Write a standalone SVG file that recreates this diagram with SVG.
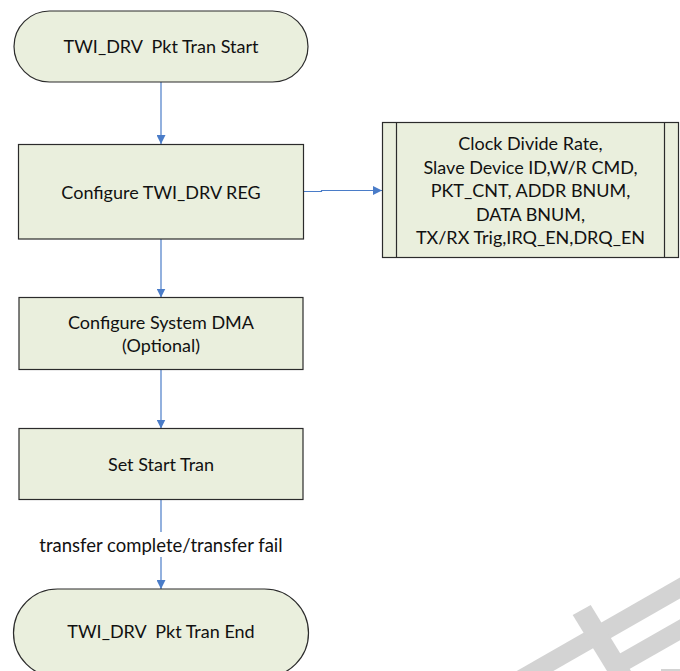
<svg xmlns="http://www.w3.org/2000/svg" width="680" height="671" viewBox="0 0 680 671">
<style>
  .shape { fill: #EAEFDD; stroke: #2b2b2b; stroke-width: 1.2; }
  .t { font-family: Lato, "Liberation Sans", sans-serif; font-size: 18px; fill: #111; text-anchor: middle; }
  .lbl { font-size: 18.5px; }
  .conn { fill: none; stroke: #4A7CC8; stroke-width: 1.2; }
  .wm { fill: #D3D3D3; }
</style>
<defs>
  <marker id="arr" viewBox="0 0 10 10" refX="10" refY="5" markerWidth="9" markerHeight="9" markerUnits="userSpaceOnUse" orient="auto">
    <path d="M0,0 L10,5 L0,10 Z" fill="#4A7CC8"/>
  </marker>
</defs>
<rect width="680" height="671" fill="#fff"/>

<g id="watermark">
  <polygon class="wm" points="516.7,671 680,577.5 680,598.5 553.3,671"/>
  <polygon class="wm" points="572.7,615 590.7,605 631,671 607,671"/>
  <polygon class="wm" points="612,658 680,619.3 680,640.3 626,671 619,671"/>
  <rect class="wm" x="661" y="669" width="19" height="2"/>
</g>

<g id="connectors">
  <path class="conn" d="M161,82 V144" marker-end="url(#arr)"/>
  <path class="conn" d="M304,191.5 H321.5 V190.5 H382" marker-end="url(#arr)"/>
  <path class="conn" d="M161,239 V297.5" marker-end="url(#arr)"/>
  <path class="conn" d="M161,369.5 V428.5" marker-end="url(#arr)"/>
  <path class="conn" d="M161,499.5 V532"/>
  <path class="conn" d="M161,557 V589" marker-end="url(#arr)"/>
  <text class="t lbl" x="161" y="551.5">transfer complete/transfer fail</text>
</g>

<g id="start">
  <rect class="shape" x="14" y="11" width="294" height="71" rx="35.5" ry="35.5"/>
  <text class="t" x="161" y="53.4" xml:space="preserve">TWI_DRV  Pkt Tran Start</text>
</g>

<g id="config-reg">
  <rect class="shape" x="18.5" y="144.5" width="285" height="94.5"/>
  <text class="t" x="161" y="199.4">Configure TWI_DRV REG</text>
</g>

<g id="reg-fields">
  <rect class="shape" x="382.5" y="122.5" width="296" height="135"/>
  <line x1="396.5" y1="122.5" x2="396.5" y2="257.5" stroke="#2b2b2b" stroke-width="1.2"/>
  <line x1="664.5" y1="122.5" x2="664.5" y2="257.5" stroke="#2b2b2b" stroke-width="1.2"/>
  <text class="t" x="530.5" y="150">Clock Divide Rate,</text>
  <text class="t" x="530.5" y="173.5">Slave Device ID,W/R CMD,</text>
  <text class="t" x="530.5" y="197">PKT_CNT, ADDR BNUM,</text>
  <text class="t" x="530.5" y="220.5">DATA BNUM,</text>
  <text class="t" x="530.5" y="244">TX/RX Trig,IRQ_EN,DRQ_EN</text>
</g>

<g id="config-dma">
  <rect class="shape" x="19" y="297.5" width="284" height="72"/>
  <text class="t" x="161" y="328.8">Configure System DMA</text>
  <text class="t" x="161" y="352.4">(Optional)</text>
</g>

<g id="set-start">
  <rect class="shape" x="19" y="428.5" width="284" height="71"/>
  <text class="t" x="161" y="471.4">Set Start Tran</text>
</g>

<g id="end">
  <rect class="shape" x="13.5" y="589" width="295" height="88" rx="44" ry="44"/>
  <text class="t" x="161" y="638" xml:space="preserve">TWI_DRV  Pkt Tran End</text>
</g>
</svg>
